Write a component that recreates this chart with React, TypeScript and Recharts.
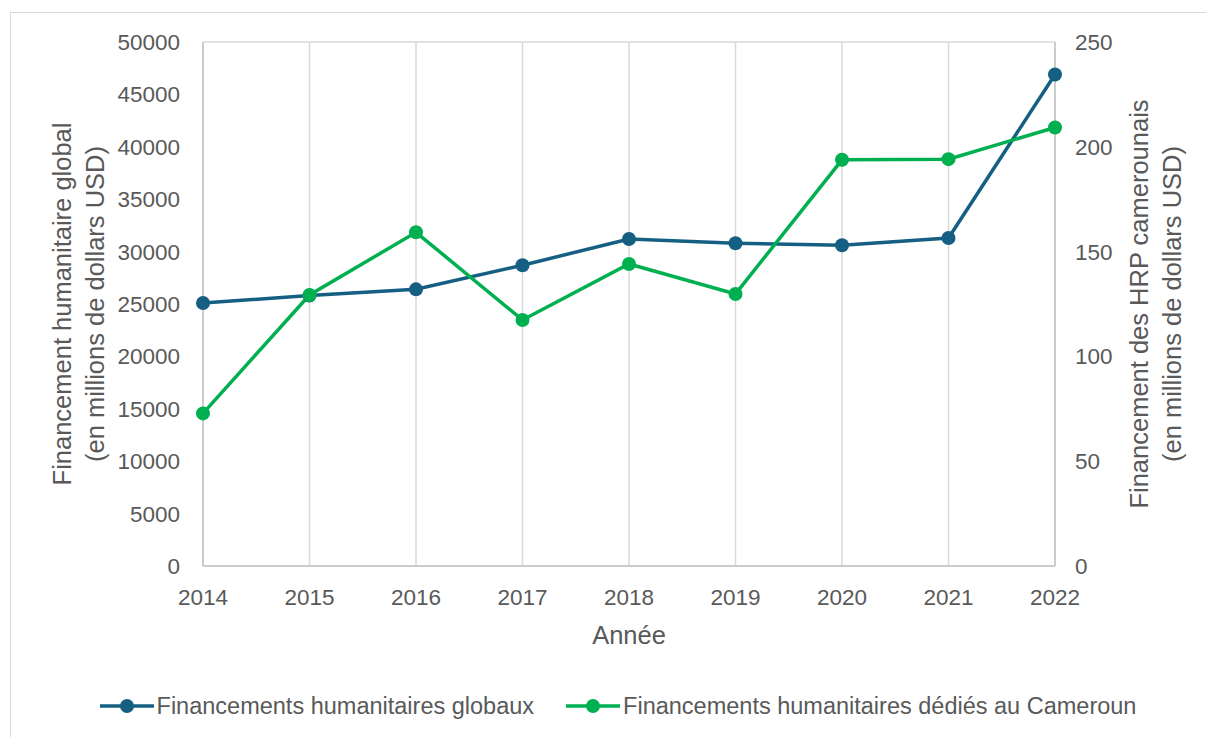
import { CartesianGrid, Line, LineChart, XAxis, YAxis } from 'recharts';

const years = ['2014', '2015', '2016', '2017', '2018', '2019', '2020', '2021', '2022'];
const globalFunding = [25100, 25800, 26400, 28700, 31200, 30800, 30600, 31300, 46900];
const cameroonFunding = [72.8, 129.3, 159.2, 117.4, 144.1, 129.8, 193.8, 194.1, 209.2];
const leftTicks = [0, 5000, 10000, 15000, 20000, 25000, 30000, 35000, 40000, 45000, 50000];
const rightTicks = [0, 50, 100, 150, 200, 250];

const GLOBAL_NAME = 'Financements humanitaires globaux';
const CAMEROON_NAME = 'Financements humanitaires dédiés au Cameroun';

const BLUE = '#156082';
const GREEN = '#00B050';
const TEXT = '#595959';
const FONT = '"Liberation Sans", Arial, sans-serif';

const data = years.map((year, i) => ({
  year,
  global: globalFunding[i],
  cameroon: cameroonFunding[i],
}));

const tickStyle = { fill: TEXT, fontSize: 22.5, fontFamily: FONT };

const TwoLineTitle = ({ cx, cy, lines }: { cx: number; cy: number; lines: string[] }) => (
  <text
    x={cx}
    y={cy}
    transform={`rotate(-90 ${cx} ${cy})`}
    textAnchor="middle"
    dominantBaseline="central"
    fill={TEXT}
    fontSize={25.5}
    fontFamily={FONT}
  >
    <tspan x={cx} y={cy - 16.5}>{lines[0]}</tspan>
    <tspan x={cx} y={cy + 16.5}>{lines[1]}</tspan>
  </text>
);

const LegendItem = ({ color, name }: { color: string; name: string }) => (
  <div style={{ display: 'flex', alignItems: 'center' }}>
    <svg width={54} height={16} style={{ marginRight: 3 }}>
      <line x1={0} y1={8} x2={54} y2={8} stroke={color} strokeWidth={3.5} />
      <circle cx={27} cy={8} r={7} fill={color} />
    </svg>
    <span>{name}</span>
  </div>
);

export default function App() {
  return (
    <div
      style={{
        position: 'fixed',
        left: 0,
        top: 0,
        width: 1206,
        height: 737,
        background: '#fff',
        overflow: 'hidden',
      }}
    >
      <div
        style={{
          position: 'absolute',
          left: 10,
          top: 12,
          width: 1220,
          height: 760,
          border: '1px solid #d9d9d9',
        }}
      />
      <div style={{ position: 'absolute', left: 0, top: 0 }}>
        <LineChart
          width={1206}
          height={737}
          data={data}
          margin={{ top: 42, right: 10, bottom: 0, left: 10 }}
        >
          <CartesianGrid stroke="#d9d9d9" strokeWidth={1.5} />
          <XAxis
            dataKey="year"
            height={171}
            interval={0}
            tickSize={0}
            tickMargin={23}
            tickLine={false}
            axisLine={{ stroke: '#c4c4c4', strokeWidth: 1.5 }}
            tick={tickStyle}
            label={{
              content: () => (
                <text
                  x={629}
                  y={635}
                  textAnchor="middle"
                  dominantBaseline="central"
                  fill={TEXT}
                  fontSize={25.5}
                  fontFamily={FONT}
                >
                  Année
                </text>
              ),
            }}
          />
          <YAxis
            yAxisId="left"
            width={193}
            domain={[0, 50000]}
            ticks={leftTicks}
            interval={0}
            tickSize={0}
            tickMargin={23}
            tickLine={false}
            axisLine={{ stroke: '#c4c4c4', strokeWidth: 1.5 }}
            tick={tickStyle}
            label={{
              content: () => (
                <TwoLineTitle
                  cx={78.5}
                  cy={304}
                  lines={['Financement humanitaire global', '(en millions de dollars USD)']}
                />
              ),
            }}
          />
          <YAxis
            yAxisId="right"
            orientation="right"
            width={141}
            domain={[0, 250]}
            ticks={rightTicks}
            interval={0}
            tickSize={0}
            tickMargin={20}
            tickLine={false}
            axisLine={{ stroke: '#c4c4c4', strokeWidth: 1.5 }}
            tick={{ ...tickStyle, textAnchor: 'start' }}
            label={{
              content: () => (
                <TwoLineTitle
                  cx={1155}
                  cy={304}
                  lines={['Financement des HRP camerounais', '(en millions de dollars USD)']}
                />
              ),
            }}
          />
          <Line
            yAxisId="left"
            dataKey="global"
            name={GLOBAL_NAME}
            stroke={BLUE}
            strokeWidth={3.5}
            dot={{ r: 7, fill: BLUE, stroke: BLUE, strokeWidth: 0 }}
            isAnimationActive={false}
          />
          <Line
            yAxisId="right"
            dataKey="cameroon"
            name={CAMEROON_NAME}
            stroke={GREEN}
            strokeWidth={3.5}
            dot={{ r: 7, fill: GREEN, stroke: GREEN, strokeWidth: 0 }}
            isAnimationActive={false}
          />
        </LineChart>
      </div>
      <div
        style={{
          position: 'absolute',
          left: 0,
          top: 690,
          width: 1206,
          height: 32,
          display: 'flex',
          justifyContent: 'center',
          alignItems: 'center',
          gap: 32,
          color: TEXT,
          fontSize: 23.5,
          fontFamily: FONT,
          paddingLeft: 30,
          boxSizing: 'border-box',
        }}
      >
        <LegendItem color={BLUE} name={GLOBAL_NAME} />
        <LegendItem color={GREEN} name={CAMEROON_NAME} />
      </div>
    </div>
  );
}
